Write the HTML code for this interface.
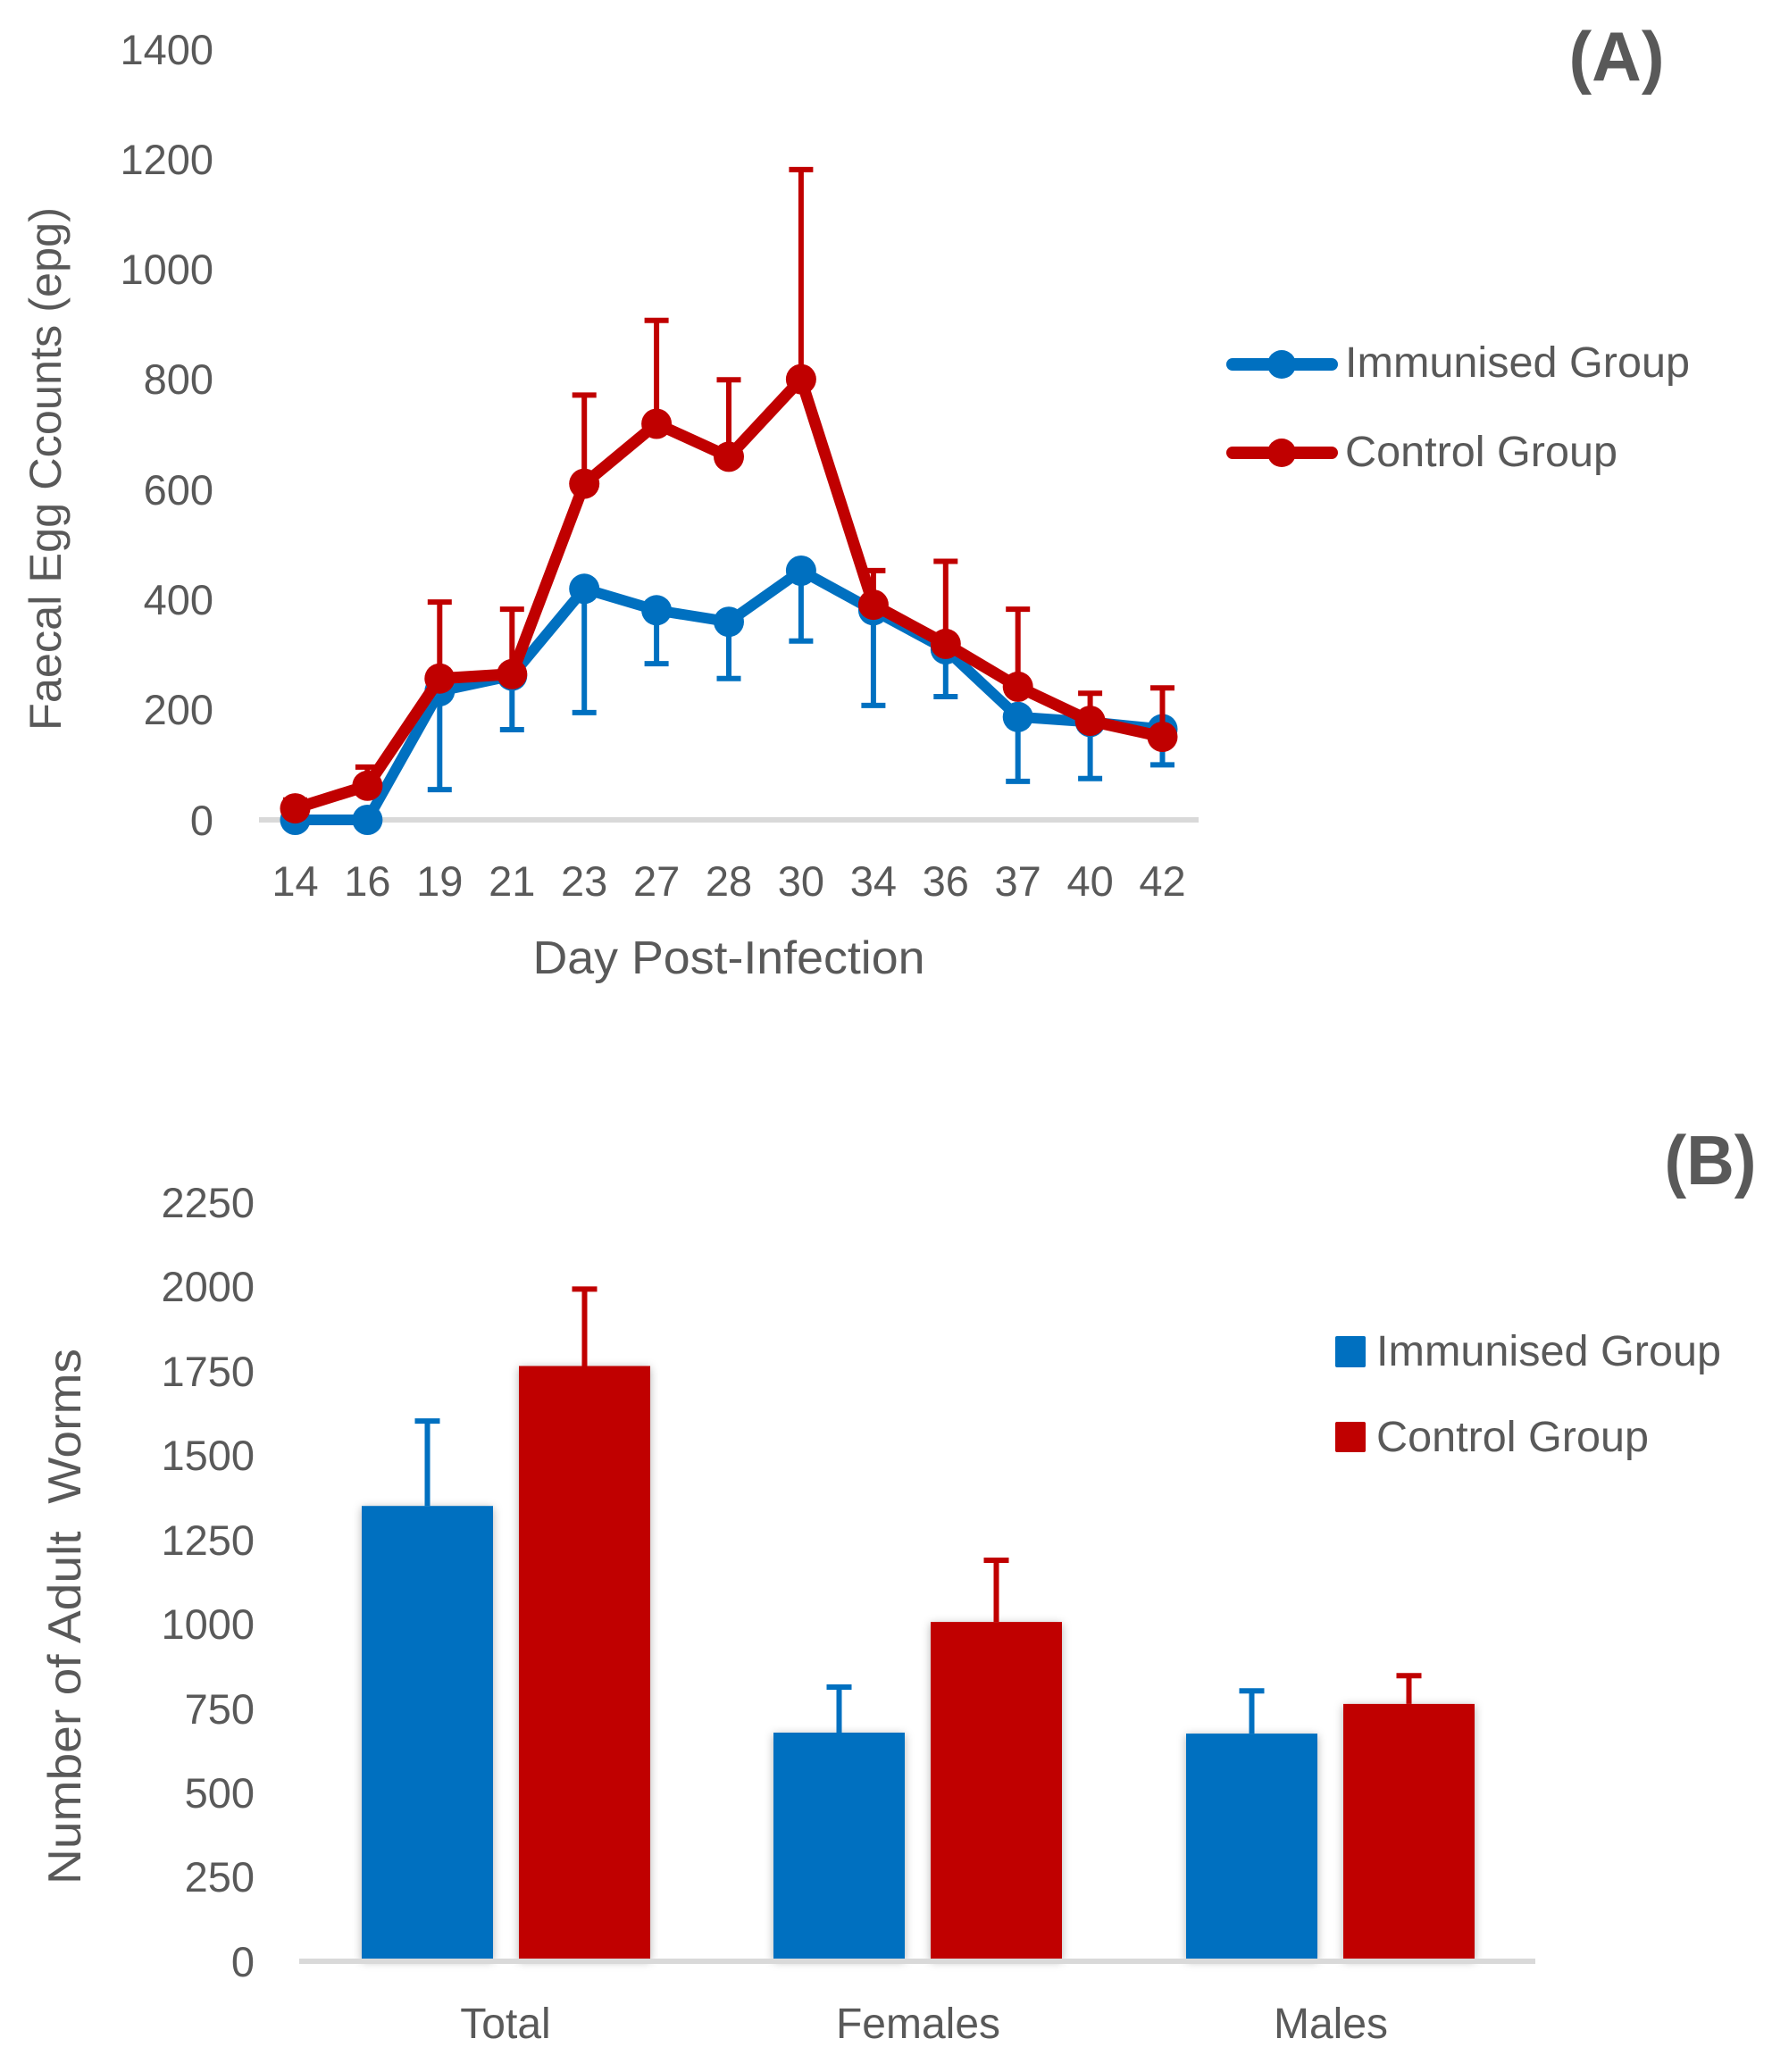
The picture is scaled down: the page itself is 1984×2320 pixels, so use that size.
<!DOCTYPE html>
<html><head><meta charset="utf-8"><style>
html,body{margin:0;padding:0;background:#fff;}
svg{display:block;}
text{font-family:"Liberation Sans",Arial,sans-serif;fill:#595959;}
</style></head><body>
<svg width="1984" height="2320" viewBox="0 0 1984 2320" xmlns="http://www.w3.org/2000/svg">
<defs>
<filter id="sh" x="-20%" y="-20%" width="140%" height="140%">
<feDropShadow dx="0" dy="2" stdDeviation="5" flood-color="#000" flood-opacity="0.3"/>
</filter>
</defs>
<rect width="1984" height="2320" fill="#fff"/>

<!-- ========== CHART A ========== -->
<g font-size="47" text-anchor="end">
<text x="239" y="72">1400</text>
<text x="239" y="195">1200</text>
<text x="239" y="318">1000</text>
<text x="239" y="441">800</text>
<text x="239" y="565">600</text>
<text x="239" y="688">400</text>
<text x="239" y="811">200</text>
<text x="239" y="935">0</text>
</g>
<text transform="translate(68,525) rotate(-90)" font-size="50" text-anchor="middle" textLength="586" lengthAdjust="spacingAndGlyphs">Faecal Egg Ccounts (epg)</text>

<line x1="290" y1="918" x2="1342" y2="918" stroke="#d9d9d9" stroke-width="6"/>

<g font-size="47" text-anchor="middle">
<text x="330.5" y="1003">14</text>
<text x="411.4" y="1003">16</text>
<text x="492.3" y="1003">19</text>
<text x="573.3" y="1003">21</text>
<text x="654.2" y="1003">23</text>
<text x="735.1" y="1003">27</text>
<text x="816.0" y="1003">28</text>
<text x="896.9" y="1003">30</text>
<text x="977.9" y="1003">34</text>
<text x="1058.8" y="1003">36</text>
<text x="1139.7" y="1003">37</text>
<text x="1220.6" y="1003">40</text>
<text x="1301.5" y="1003">42</text>
</g>
<text x="816" y="1090" font-size="52" text-anchor="middle" textLength="439" lengthAdjust="spacingAndGlyphs">Day Post-Infection</text>

<!-- Immunised error bars (minus) -->
<g stroke="#0070C0" stroke-width="6" fill="none">
<path d="M492.3 773.9V884.1M478.8 884.1H505.8"/>
<path d="M573.3 756.6V817M559.8 817H586.8"/>
<path d="M654.2 659.3V797.9M640.7 797.9H667.7"/>
<path d="M735.1 683.3V743.1M721.6 743.1H748.6"/>
<path d="M816.0 696.2V759.7M802.5 759.7H829.5"/>
<path d="M896.9 639V717.8M883.4 717.8H910.4"/>
<path d="M977.9 683.3V789.9M964.4 789.9H991.4"/>
<path d="M1058.8 727V780M1045.3 780H1072.3"/>
<path d="M1139.7 802.8V874.9M1126.2 874.9H1153.2"/>
<path d="M1220.6 808.4V871.8M1207.1 871.8H1234.1"/>
<path d="M1301.5 816.4V856.4M1288 856.4H1315"/>
</g>
<!-- Immunised line -->
<polyline fill="none" stroke="#0070C0" stroke-width="12" stroke-linejoin="round" points="330.5,918 411.4,918 492.3,773.9 573.3,756.6 654.2,659.3 735.1,683.3 816.0,696.2 896.9,639 977.9,683.3 1058.8,727 1139.7,802.8 1220.6,808.4 1301.5,816.4"/>
<g fill="#0070C0">
<circle cx="330.5" cy="918" r="17"/><circle cx="411.4" cy="918" r="17"/><circle cx="492.3" cy="773.9" r="17"/>
<circle cx="573.3" cy="756.6" r="17"/><circle cx="654.2" cy="659.3" r="17"/><circle cx="735.1" cy="683.3" r="17"/>
<circle cx="816.0" cy="696.2" r="17"/><circle cx="896.9" cy="639" r="17"/><circle cx="977.9" cy="683.3" r="17"/>
<circle cx="1058.8" cy="727" r="17"/><circle cx="1139.7" cy="802.8" r="17"/><circle cx="1220.6" cy="808.4" r="17"/>
<circle cx="1301.5" cy="816.4" r="17"/>
</g>

<!-- Control error bars (plus) -->
<g stroke="#C00000" stroke-width="6" fill="none">
<path d="M330.5 905.1V895.8M317 895.8H344"/>
<path d="M411.4 879.8V858.9M397.9 858.9H424.9"/>
<path d="M492.3 759.7V674.1M478.8 674.1H505.8"/>
<path d="M573.3 754.8V682.1M559.8 682.1H586.8"/>
<path d="M654.2 541.6V442.4M640.7 442.4H667.7"/>
<path d="M735.1 474.5V358.7M721.6 358.7H748.6"/>
<path d="M816.0 511.4V425.2M802.5 425.2H829.5"/>
<path d="M896.9 424.6V189.9M883.4 189.9H910.4"/>
<path d="M977.9 677.1V638.9M964.4 638.9H991.4"/>
<path d="M1058.8 720.9V628.5M1045.3 628.5H1072.3"/>
<path d="M1139.7 768.9V682.1M1126.2 682.1H1153.2"/>
<path d="M1220.6 807.1V776.3M1207.1 776.3H1234.1"/>
<path d="M1301.5 825V770.2M1288 770.2H1315"/>
</g>
<polyline fill="none" stroke="#C00000" stroke-width="13" stroke-linejoin="round" points="330.5,905.1 411.4,879.8 492.3,759.7 573.3,754.8 654.2,541.6 735.1,474.5 816.0,511.4 896.9,424.6 977.9,677.1 1058.8,720.9 1139.7,768.9 1220.6,807.1 1301.5,825"/>
<g fill="#C00000">
<circle cx="330.5" cy="905.1" r="17"/><circle cx="411.4" cy="879.8" r="17"/><circle cx="492.3" cy="759.7" r="17"/>
<circle cx="573.3" cy="754.8" r="17"/><circle cx="654.2" cy="541.6" r="17"/><circle cx="735.1" cy="474.5" r="17"/>
<circle cx="816.0" cy="511.4" r="17"/><circle cx="896.9" cy="424.6" r="17"/><circle cx="977.9" cy="677.1" r="17"/>
<circle cx="1058.8" cy="720.9" r="17"/><circle cx="1139.7" cy="768.9" r="17"/><circle cx="1220.6" cy="807.1" r="17"/>
<circle cx="1301.5" cy="825" r="17"/>
</g>

<!-- Legend A -->
<line x1="1380" y1="408" x2="1491" y2="408" stroke="#0070C0" stroke-width="14" stroke-linecap="round"/>
<circle cx="1435" cy="408" r="16" fill="#0070C0"/>
<text x="1506" y="422" font-size="48" textLength="386" lengthAdjust="spacingAndGlyphs">Immunised Group</text>
<line x1="1380" y1="507" x2="1491" y2="507" stroke="#C00000" stroke-width="14" stroke-linecap="round"/>
<circle cx="1435" cy="507" r="16" fill="#C00000"/>
<text x="1506" y="522" font-size="48" textLength="305" lengthAdjust="spacingAndGlyphs">Control Group</text>

<text x="1810" y="90" font-size="78" font-weight="bold" text-anchor="middle" textLength="107" lengthAdjust="spacingAndGlyphs">(A)</text>

<!-- ========== CHART B ========== -->
<text x="1915" y="1326" font-size="78" font-weight="bold" text-anchor="middle" textLength="103" lengthAdjust="spacingAndGlyphs">(B)</text>

<g font-size="47" text-anchor="end">
<text x="285" y="1363">2250</text>
<text x="285" y="1457">2000</text>
<text x="285" y="1552">1750</text>
<text x="285" y="1646">1500</text>
<text x="285" y="1741">1250</text>
<text x="285" y="1835">1000</text>
<text x="285" y="1930">750</text>
<text x="285" y="2024">500</text>
<text x="285" y="2118">250</text>
<text x="285" y="2213">0</text>
</g>
<text transform="translate(90,1810) rotate(-90)" font-size="52" text-anchor="middle" textLength="600" lengthAdjust="spacingAndGlyphs" xml:space="preserve">Number of Adult  Worms</text>

<!-- bars -->
<g filter="url(#sh)">
<rect x="405" y="1686.2" width="147" height="508" fill="#0070C0"/>
<rect x="581" y="1529.5" width="147" height="664.7" fill="#C00000"/>
<rect x="866" y="1940" width="147" height="254.2" fill="#0070C0"/>
<rect x="1042" y="1816.1" width="147" height="378.1" fill="#C00000"/>
<rect x="1328" y="1941.1" width="147" height="253.1" fill="#0070C0"/>
<rect x="1504" y="1907.9" width="147" height="286.3" fill="#C00000"/>
</g>
<!-- error bars B -->
<g stroke-width="6" fill="none">
<path stroke="#0070C0" d="M478.5 1686.2V1591.1M464.5 1591.1H492.5"/>
<path stroke="#C00000" d="M654.5 1529.5V1443.4M640.5 1443.4H668.5"/>
<path stroke="#0070C0" d="M939.5 1940V1889M925.5 1889H953.5"/>
<path stroke="#C00000" d="M1115.5 1816.1V1747M1101.5 1747H1129.5"/>
<path stroke="#0070C0" d="M1401.5 1941.1V1893.2M1387.5 1893.2H1415.5"/>
<path stroke="#C00000" d="M1577.5 1907.9V1876.2M1563.5 1876.2H1591.5"/>
</g>
<line x1="335" y1="2196" x2="1719" y2="2196" stroke="#d9d9d9" stroke-width="6"/>

<g font-size="48" text-anchor="middle">
<text x="566" y="2282">Total</text>
<text x="1028" y="2282">Females</text>
<text x="1490" y="2282">Males</text>
</g>

<!-- Legend B -->
<rect x="1495" y="1496" width="34" height="35" rx="2" fill="#0070C0"/>
<text x="1541" y="1529" font-size="48" textLength="386" lengthAdjust="spacingAndGlyphs">Immunised Group</text>
<rect x="1495" y="1592" width="34" height="34" rx="2" fill="#C00000"/>
<text x="1541" y="1625" font-size="48" textLength="305" lengthAdjust="spacingAndGlyphs">Control Group</text>
</svg>
</body></html>
